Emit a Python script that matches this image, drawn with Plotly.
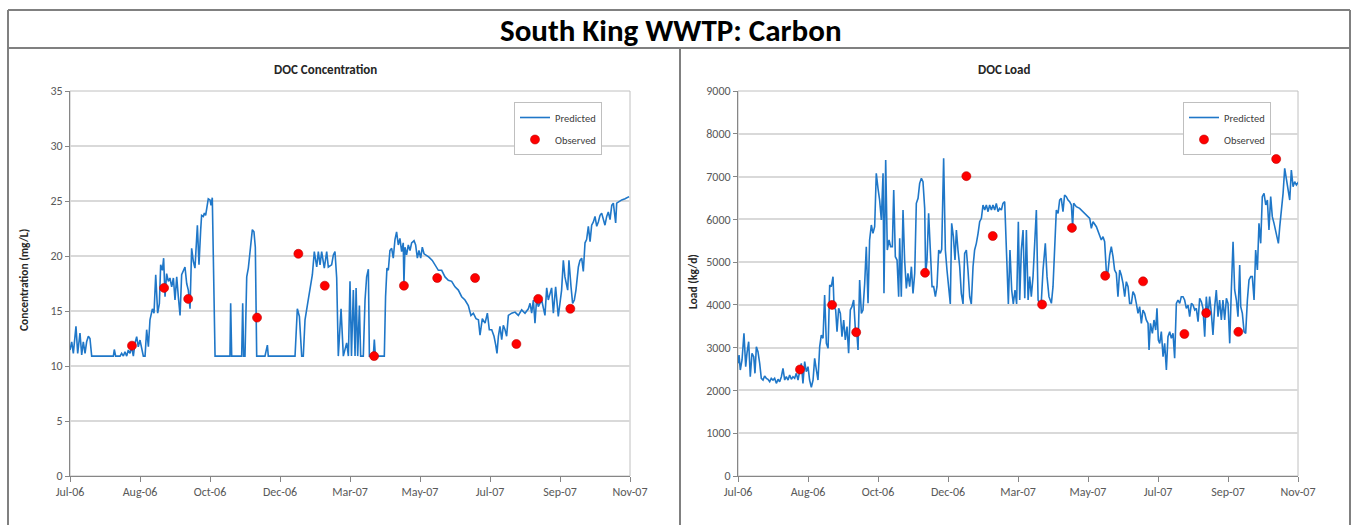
import pandas as pd
import plotly.graph_objects as go

# ---------------- data ----------------
START = "2006-07-01"

# DOC concentration, predicted (days since 1 Jul 2006, mg/L)
conc_days = [0, 1.5, 2.9, 5.2, 6.7, 8.7, 10.2, 11.6, 13.1, 14.5, 16.0, 17.4, 18.9, 37.8, 38.6, 39.8,
             43.6, 45.0, 46.5, 47.9, 49.4, 50.8, 52.3, 53.7, 55.2, 56.6, 58.1, 59.5, 61.0, 62.4, 63.9,
             65.4, 66.8, 68.3, 69.7, 71.8, 73.2, 74.7, 76.4, 77.9, 79.0, 80.5, 81.6, 82.8, 84.2, 85.7,
             87.1, 88.6, 90.1, 91.5, 93.0, 94.4, 95.9, 97.3, 98.8, 100.2, 101.7, 103.1, 104.6, 106.0,
             107.5, 108.9, 111.0, 112.4, 113.9, 114.7, 116.2, 117.1, 118.2, 119.1, 120.5, 122.0, 122.9,
             124.0, 124.9, 126.4, 139.4, 140.0, 140.9, 149.6, 150.5, 151.3, 152.5, 154.0, 155.4, 156.9,
             158.9, 160.3, 161.5, 162.7, 169.9, 172.0, 172.8, 196.1, 198.1, 199.9, 201.9, 203.3, 204.8,
             207.1, 209.2, 211.2, 212.9, 215.0, 216.4, 217.9, 219.3, 221.6, 223.7, 225.1, 228.0, 229.5,
             230.9, 232.4, 233.8, 236.2, 238.2, 241.1, 242.6, 244.0, 245.3, 246.9, 248.4, 249.3, 250.7,
             252.2, 253.3, 255.6, 257.1, 258.5, 260.0, 260.9, 264.3, 265.2, 266.1, 273.9, 275.0, 276.2,
             277.4, 278.8, 280.3, 281.7, 283.2, 284.6, 286.1, 287.5, 289.0, 290.4, 291.0, 291.9, 293.3,
             294.8, 296.3, 297.7, 299.8, 301.2, 302.7, 304.1, 305.6, 307.0, 308.5, 310.2, 312.8, 315.7,
             318.1, 321.0, 323.9, 326.8, 329.7, 332.6, 335.5, 338.4, 341.3, 344.2, 347.1, 349.4, 351.5,
             353.8, 355.9, 357.3, 359.3, 361.7, 363.7, 365.4, 367.5, 369.5, 371.0, 372.1, 373.3, 374.7,
             376.2, 377.6, 379.1, 380.5, 382.0, 384.9, 387.8, 390.7, 393.6, 396.5, 399.4, 400.9, 402.3,
             403.8, 405.2, 406.7, 408.1, 411.0, 413.9, 415.4, 416.8, 419.7, 421.2, 423.2, 425.5, 428.4,
             429.9, 431.3, 433.7, 434.8, 436.6, 438.0, 439.5, 440.9, 443.0, 444.4, 445.9, 447.3, 448.8,
             450.2, 451.7, 453.2, 454.6, 456.1, 457.5, 459.0, 460.4, 461.9, 463.3, 464.8, 466.2, 467.7,
             469.1, 470.6, 472.1, 473.5, 475.5, 476.4, 477.9, 480.8, 483.7, 487.2]
conc_pred = [11.45, 12.2, 11.15, 13.6, 11.15, 13.0, 11.0, 12.2, 11.15, 12.2, 12.7, 12.5, 10.9, 10.9, 11.5, 10.9,
             10.9, 11.15, 10.9, 11.3, 10.9, 11.45, 11.15, 11.75, 10.9, 12.06, 12.67, 11.75, 12.36, 11.75, 10.9,
             10.9, 13.3, 11.75, 14.2, 15.2, 14.8, 18.3, 14.8, 15.7, 19.2, 18.7, 19.8, 16.3, 18.4, 17.7,
             18.0, 17.2, 18.0, 16.0, 18.1, 16.3, 14.6, 18.3, 18.7, 19.0, 17.5, 16.9, 15.2, 20.7,
             19.5, 18.9, 22.8, 19.2, 22.4, 23.7, 23.6, 23.9, 23.7, 24.5, 25.2, 25.1, 24.6,
             25.3, 18.1, 10.9, 10.9, 15.7, 10.9, 10.9, 15.7, 10.9, 10.9, 18.1, 18.9, 20.5,
             22.4, 22.2, 20.8, 10.9, 10.9, 11.9, 10.9, 10.9, 15.2, 14.5, 10.9, 10.9, 14.2,
             15.7, 16.9, 18.3, 20.4, 19.0, 20.4, 19.2, 20.4, 18.9, 20.4, 19.0, 19.2, 20.1,
             20.4, 18.0, 10.9, 15.2, 10.9, 12.1, 10.9, 17.7, 10.9, 16.9, 10.9, 17.1, 10.9,
             15.5, 10.9, 10.9, 16.0, 18.1, 18.8, 10.9, 10.9, 12.4, 10.9, 10.9, 16.3, 18.9,
             18.7, 20.5, 20.7, 19.8, 21.5, 22.2, 21.0, 21.6, 20.4, 21.2, 17.4, 20.8, 20.1,
             21.0, 20.5, 21.2, 21.4, 21.0, 19.8, 20.5, 19.8, 20.8, 20.2, 20.1, 19.9, 19.6,
             19.2, 18.7, 18.7, 18.1, 17.8, 17.7, 17.2, 16.9, 16.3, 16.0, 15.5, 14.6, 14.8,
             14.3, 14.2, 12.8, 14.3, 13.9, 14.8, 13.3, 13.3, 12.7, 11.9, 11.15, 12.7, 13.6,
             12.4, 13.7, 13.3, 12.7, 14.6, 14.8, 14.9, 14.6, 15.1, 14.8, 15.2, 15.7, 14.8,
             16.0, 13.9, 16.2, 15.4, 16.0, 14.6, 17.1, 16.0, 17.1, 14.8, 17.2, 14.5, 16.9,
             19.6, 18.1, 16.9, 19.6, 17.2, 15.7, 16.0, 16.9, 19.0, 19.6, 19.8, 18.6, 21.2,
             21.5, 22.7, 21.3, 22.8, 23.1, 23.6, 22.7, 23.1, 23.7, 23.9, 23.4, 22.8, 23.6,
             24.0, 23.3, 24.6, 24.8, 23.0, 24.8, 24.9, 25.1, 25.2, 25.4]

# DOC load, predicted (days since 1 Jul 2006, kg/d)
load_days = [0, 0.9, 2.0, 3.5, 5.2, 6.7, 7.8, 9.3, 10.7, 12.2, 13.7, 14.8, 16.0, 17.4, 18.9, 20.3,
             21.8, 23.2, 24.7, 26.1, 27.6, 29.0, 30.5, 31.9, 33.4, 34.9, 36.3, 37.8, 39.2, 40.7, 42.1,
             43.6, 45.0, 46.5, 47.9, 49.4, 50.8, 52.3, 53.7, 55.2, 56.6, 58.1, 59.5, 61.0, 62.4, 63.9,
             65.4, 66.8, 68.3, 69.7, 71.2, 72.6, 74.1, 75.5, 77.0, 78.5, 79.9, 81.3, 82.8, 83.7, 85.1,
             86.3, 87.7, 89.2, 90.6, 92.1, 93.5, 95.0, 96.4, 97.9, 99.3, 100.8, 102.3, 103.7, 104.6,
             106.0, 107.5, 108.9, 110.4, 111.8, 113.3, 114.7, 116.2, 117.6, 119.1, 120.5, 122.0, 123.4,
             124.9, 126.4, 127.2, 128.7, 130.1, 131.6, 133.0, 134.5, 135.7, 137.1, 138.6, 140.0, 140.9,
             142.3, 143.8, 145.2, 146.7, 148.1, 149.6, 151.1, 152.5, 154.0, 155.4, 156.9, 158.3, 159.8,
             161.2, 162.7, 163.5, 164.7, 166.1, 167.6, 169.1, 170.5, 172.0, 173.4, 174.9, 176.3, 177.5,
             179.2, 180.7, 182.1, 183.6, 185.0, 186.2, 187.7, 189.1, 190.3, 191.7, 193.2, 194.6, 196.1,
             197.5, 199.0, 200.4, 201.9, 203.3, 204.8, 206.2, 207.7, 209.2, 210.6, 212.1, 213.5, 215.0,
             216.4, 217.9, 219.3, 220.8, 222.2, 223.7, 225.1, 226.6, 228.0, 229.5, 230.9, 232.4, 233.8,
             235.6, 237.0, 238.5, 239.9, 241.4, 242.8, 244.3, 245.5, 246.9, 248.4, 249.9, 251.3, 252.8,
             254.2, 255.6, 257.1, 258.5, 260.0, 261.5, 262.9, 264.3, 265.8, 267.8, 269.3, 271.0, 273.1,
             274.5, 276.0, 277.4, 278.9, 280.3, 281.7, 283.2, 284.6, 286.1, 287.6, 289.0, 290.5, 291.6,
             292.5, 294.8, 297.7, 300.7, 303.6, 306.5, 307.9, 309.4, 312.3, 315.2, 316.6, 318.1, 319.5,
             321.0, 322.4, 323.9, 325.3, 326.8, 328.2, 329.7, 331.1, 332.6, 334.0, 335.5, 337.0, 338.4,
             339.9, 341.3, 342.8, 344.2, 345.7, 347.1, 348.6, 350.0, 351.5, 352.9, 354.4, 355.8, 357.3,
             358.2, 359.4, 361.1, 362.5, 364.0, 365.1, 366.3, 367.5, 368.9, 370.4, 371.8, 373.3, 374.7,
             376.2, 377.6, 379.1, 380.5, 382.0, 383.4, 384.9, 386.3, 387.8, 389.2, 390.7, 392.2, 393.6,
             395.1, 396.5, 398.0, 399.4, 400.9, 402.3, 403.8, 405.2, 406.7, 408.1, 409.6, 411.0, 412.5,
             413.9, 415.4, 416.8, 418.3, 419.7, 421.2, 422.6, 424.1, 425.6, 427.0, 428.5, 429.9, 431.4,
             432.8, 434.3, 435.7, 437.2, 438.1, 439.5, 441.0, 442.4, 443.9, 445.3, 446.8, 448.2, 449.7,
             451.1, 452.6, 454.0, 455.5, 456.9, 458.4, 459.9, 461.3, 462.7, 464.2, 465.6, 467.1, 469.2,
             470.9, 472.1, 473.5, 475.0, 476.4, 477.9, 479.3, 480.8, 482.2, 483.7, 485.1, 486.6, 488.6]
load_pred = [2634, 2829, 2478, 2712, 3335, 2556, 2868, 3140, 2322, 2868, 2790, 2400, 3023, 2906, 2634, 2283,
             2244, 2338, 2283, 2260, 2205, 2283, 2244, 2283, 2166, 2260, 2205, 2322, 2517, 2244, 2322,
             2244, 2361, 2260, 2322, 2283, 2400, 2244, 2439, 2634, 2166, 2673, 2439, 2556, 2244, 2073,
             2244, 2751, 2478, 2244, 3023, 3296, 3218, 4231, 3101, 2984, 4465, 4426, 4660, 3958, 3880,
             3374, 3919, 3802, 3257, 3647, 3179, 3491, 2868, 3880, 3958, 4114, 3413, 3296, 2945,
             4582, 3802, 3880, 4504, 5361, 4036, 5517, 5867, 5673, 5828, 7075, 6725, 6452,
             5984, 7075, 4270, 7387, 5283, 5517, 5361, 5361, 6686, 5127, 5049, 4192, 5556,
             4192, 6218, 5049, 4387, 4738, 4426, 4893, 4270, 4738, 6374, 6491, 6841, 6958,
             6881, 6257, 4738, 5049, 6140, 5283, 4426, 4426, 4192, 4426, 5283, 5205, 5300,
             7426, 5283, 4815, 4348, 4021, 5906, 5595, 5049, 5751, 5283, 4893, 4270, 4021,
             5205, 5283, 4815, 4192, 4021, 4893, 5283, 5439, 5673, 5945, 6023, 6335, 6218,
             6335, 6179, 6335, 6218, 6335, 6218, 6374, 6179, 6257, 6218, 6374, 6413, 5283,
             4021, 5283, 4348, 4021, 4348, 4021, 5945, 4114, 5283, 5751, 4153, 5751, 4114,
             4660, 4192, 4660, 5283, 6218, 4114, 4036, 4075, 4815, 5439, 4660, 4192, 4036,
             4426, 5439, 6218, 6140, 6452, 6491, 6179, 6569, 6530, 6452, 6413, 6335, 5828,
             6374, 6296, 6257, 6179, 6101, 6023, 5790, 5945, 5828, 5634, 5517, 5595, 5478,
             4776, 4776, 5166, 5361, 5127, 4815, 4738, 4192, 4815, 4699, 4504, 4192, 4543,
             4426, 4036, 4036, 4309, 4231, 4036, 3802, 3958, 3569, 3880, 3802, 3647, 3569,
             2945, 3569, 3335, 3647, 3413, 3919, 3179, 3101, 3374, 2790, 3101, 2478, 3257,
             3374, 3218, 3335, 2751, 4036, 4114, 4036, 4192, 4192, 4114, 3919, 3997, 3725,
             4036, 3997, 3880, 3919, 3608, 4153, 4075, 3919, 3257, 4192, 3725, 4192, 3802,
             3296, 3958, 4348, 3725, 4114, 3647, 4114, 3647, 4153, 4036, 3101, 4348, 5478,
             4348, 4114, 3725, 4932, 3958, 3802, 3374, 3335, 4114, 4582, 4660, 4660, 4114,
             5283, 4815, 5906, 5439, 6530, 6608, 6335, 6452, 5751, 6530, 6062, 5906, 5673,
             5439, 5828, 6218, 6608, 7192, 6919, 6647, 6452, 7153, 6763, 6881, 6802, 6881]

# Observed samples
conc_obs_dates = ["2006-08-24", "2006-09-21", "2006-10-12", "2006-12-11", "2007-01-16", "2007-02-08",
                  "2007-03-23", "2007-04-18", "2007-05-17", "2007-06-19", "2007-07-25", "2007-08-13",
                  "2007-09-10"]
conc_obs = [11.85, 17.1, 16.1, 14.4, 20.2, 17.3, 10.9, 17.3, 18.0, 18.0, 12.0, 16.1, 15.2]

load_obs_dates = ["2006-08-24", "2006-09-21", "2006-10-12", "2006-12-11", "2007-01-16", "2007-02-08",
                  "2007-03-23", "2007-04-18", "2007-05-17", "2007-06-19", "2007-07-25", "2007-08-13",
                  "2007-09-10", "2007-10-13"]
load_obs = [2490, 4000, 3360, 4750, 7010, 5610, 4010, 5800, 4680, 4550, 3320, 3810, 3370, 7410]

tick_dates = ["2006-07-01", "2006-08-31", "2006-10-31", "2006-12-31", "2007-03-02", "2007-05-02",
              "2007-07-02", "2007-09-01", "2007-11-01"]
tick_labels = ["Jul-06", "Aug-06", "Oct-06", "Dec-06", "Mar-07", "May-07", "Jul-07", "Sep-07", "Nov-07"]
x_range = ["2006-07-01", "2007-11-01"]

# ---------------- figure ----------------
W, H = 1356, 525
base = pd.Timestamp(START)
conc_x = base + pd.to_timedelta(conc_days, unit="D")
load_x = base + pd.to_timedelta(load_days, unit="D")

def px(x):
    return x / W

def py(y):
    return 1 - y / H

FONT = "Carlito, Calibri, 'Open Sans', sans-serif"
LINE_BLUE = "#1f77c8"
AXIS_GRAY = "#868686"
GRID = "#d9d9d9"
TICK_TXT = "#595959"

fig = go.Figure()

fig.add_trace(go.Scatter(x=conc_x, y=conc_pred, mode="lines", name="Predicted",
                         line=dict(color=LINE_BLUE, width=1.6), xaxis="x", yaxis="y",
                         legend="legend", legendgroup="p1"))
fig.add_trace(go.Scatter(x=conc_obs_dates, y=conc_obs, mode="markers", name="Observed",
                         marker=dict(color="#ff0000", size=9, line=dict(color="#c00000", width=0.6)),
                         xaxis="x", yaxis="y", legend="legend", legendgroup="o1"))
fig.add_trace(go.Scatter(x=load_x, y=load_pred, mode="lines", name="Predicted",
                         line=dict(color=LINE_BLUE, width=1.6), xaxis="x2", yaxis="y2",
                         legend="legend2", legendgroup="p2"))
fig.add_trace(go.Scatter(x=load_obs_dates, y=load_obs, mode="markers", name="Observed",
                         marker=dict(color="#ff0000", size=9, line=dict(color="#c00000", width=0.6)),
                         xaxis="x2", yaxis="y2", legend="legend2", legendgroup="o2"))

ydom = [py(476), py(91)]
xdom1 = [px(70), px(630)]
xdom2 = [px(738), px(1298)]

def xaxis_cfg(domain, anchor):
    return dict(domain=domain, anchor=anchor, type="date", range=x_range,
                tickmode="array", tickvals=tick_dates, ticktext=tick_labels,
                ticks="outside", ticklen=5, tickcolor=AXIS_GRAY, showline=True,
                linecolor=AXIS_GRAY, linewidth=1, showgrid=False, zeroline=False,
                automargin=False,
                tickfont=dict(family=FONT, size=12, color=TICK_TXT), fixedrange=True)

def yaxis_cfg(anchor, rng, dtick):
    return dict(domain=ydom, anchor=anchor, range=rng, dtick=dtick, tick0=0,
                ticks="outside", ticklen=4, tickcolor=AXIS_GRAY, showline=True,
                linecolor=AXIS_GRAY, linewidth=1, showgrid=True, gridcolor=GRID,
                gridwidth=1.5, zeroline=False, automargin=False,
                tickfont=dict(family=FONT, size=12, color=TICK_TXT), fixedrange=True)

legend_common = dict(bgcolor="white", bordercolor="#bfbfbf", borderwidth=1,
                     font=dict(family=FONT, size=10.5, color="#404040"),
                     xanchor="left", yanchor="top", tracegroupgap=3, itemwidth=30,
                     entrywidth=72, entrywidthmode="pixels")

fig.update_layout(
    width=W, height=H, autosize=False,
    margin=dict(l=0, r=0, t=0, b=0, pad=0, autoexpand=False),
    paper_bgcolor="white", plot_bgcolor="white", showlegend=True,
    xaxis=xaxis_cfg(xdom1, "y"), yaxis=yaxis_cfg("x", [0, 35], 5),
    xaxis2=xaxis_cfg(xdom2, "y2"), yaxis2=yaxis_cfg("x2", [0, 9000], 1000),
    legend=dict(x=px(514), y=py(102), **legend_common),
    legend2=dict(x=px(1183), y=py(102), **legend_common),
)

# frame lines
FRAME = "#808080"
shapes = [
    dict(type="line", xref="paper", yref="paper", x0=px(8), x1=px(1350), y0=py(10), y1=py(10),
         line=dict(color=FRAME, width=2)),
    dict(type="line", xref="paper", yref="paper", x0=px(8), x1=px(8), y0=py(10), y1=0,
         line=dict(color=FRAME, width=2)),
    dict(type="line", xref="paper", yref="paper", x0=px(1350), x1=px(1350), y0=py(10), y1=0,
         line=dict(color=FRAME, width=2)),
    dict(type="line", xref="paper", yref="paper", x0=px(8), x1=px(1350), y0=py(48), y1=py(48),
         line=dict(color=FRAME, width=2)),
    dict(type="line", xref="paper", yref="paper", x0=px(680), x1=px(680), y0=py(48), y1=0,
         line=dict(color=FRAME, width=2)),
    # plot-area borders
    dict(type="rect", xref="paper", yref="paper", x0=xdom1[0], x1=xdom1[1], y0=ydom[0], y1=ydom[1],
         line=dict(color="#c0c0c0", width=1), layer="below"),
    dict(type="rect", xref="paper", yref="paper", x0=xdom2[0], x1=xdom2[1], y0=ydom[0], y1=ydom[1],
         line=dict(color="#c0c0c0", width=1), layer="below"),
]
fig.update_layout(shapes=shapes)

ann = [
    dict(text="<b>South King WWTP: Carbon</b>", x=px(671), y=py(30), xref="paper", yref="paper",
         showarrow=False, font=dict(family=FONT, size=31, color="black"),
         xanchor="center", yanchor="middle"),
    dict(text="<b>DOC Concentration</b>", x=px(325), y=py(70), xref="paper", yref="paper",
         showarrow=False, font=dict(family=FONT, size=13, color="#262626"),
         xanchor="center", yanchor="middle"),
    dict(text="<b>DOC Load</b>", x=px(1004), y=py(70), xref="paper", yref="paper",
         showarrow=False, font=dict(family=FONT, size=13, color="#262626"),
         xanchor="center", yanchor="middle"),
    dict(text="<b>Concentration (mg/L)</b>", x=px(24), y=py(280), xref="paper", yref="paper",
         showarrow=False, textangle=-90, font=dict(family=FONT, size=11.5, color="#262626"),
         xanchor="center", yanchor="middle"),
    dict(text="<b>Load (kg/d)</b>", x=px(693), y=py(282), xref="paper", yref="paper",
         showarrow=False, textangle=-90, font=dict(family=FONT, size=11.5, color="#262626"),
         xanchor="center", yanchor="middle"),
]
fig.update_layout(annotations=ann)

fig.write_html("out.html", config={"displayModeBar": False},
               post_script="document.body.style.margin='0';document.body.style.overflow='hidden';")
